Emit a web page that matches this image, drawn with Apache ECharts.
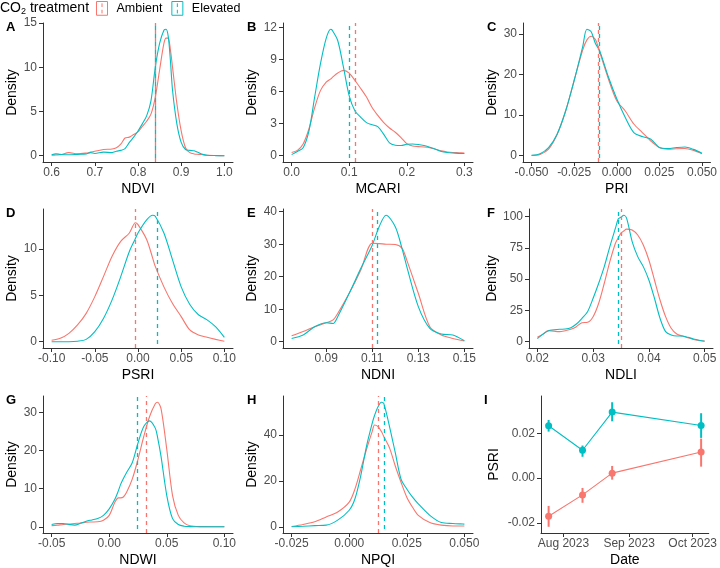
<!DOCTYPE html>
<html><head><meta charset="utf-8">
<script src="https://cdn.jsdelivr.net/npm/echarts@6/dist/echarts.min.js"></script>
<style>html,body{margin:0;padding:0;background:#fff}#c{width:720px;height:568px}</style>
</head><body><div id="c"></div>
<script>
// ---------- DATA ----------
const seriesNames = ['Ambient', 'Elevated'];

const ndviX    = [0.60,0.61,0.62,0.64,0.66,0.68,0.69,0.70,0.72,0.74,0.75,0.76,0.77,0.78,0.79,0.80,0.81,0.82,0.83,0.84,0.85,0.86,0.865,0.87,0.875,0.88,0.89,0.90,0.91,0.92,0.93,0.94,0.95,0.96,0.98,1.00];
const ndviAmb  = [0.05,0.08,0.1,0.35,0.2,0.3,0.4,0.5,0.7,0.75,0.9,1.3,2.0,2.1,2.4,2.7,3.3,3.9,4.7,6.6,9.7,12.7,13.3,13.3,12.0,10.0,5.9,2.8,0.9,0.35,0.2,0.15,0.1,0.05,0.02,0.0];
const ndviElev = [0.1,0.2,0.15,0.1,0.15,0.2,0.35,0.25,0.4,0.35,0.5,0.6,0.8,1.5,2.1,2.8,3.6,4.5,6.2,10.0,12.7,14.2,14.3,13.5,10.8,7.4,3.6,1.5,0.7,0.6,0.55,0.35,0.15,0.05,0.01,0.0];
const ndviMeans = [0.839, 0.841];
const ndviXTicks = [0.6,0.7,0.8,0.9,1.0];
const ndviXLabels = ['0.6','0.7','0.8','0.9','1.0'];
const ndviYTicks = [0,5,10,15];

const mcariX    = [0,0.01,0.02,0.03,0.04,0.05,0.06,0.068,0.07,0.08,0.09,0.10,0.11,0.12,0.13,0.14,0.15,0.16,0.17,0.18,0.19,0.20,0.21,0.22,0.23,0.24,0.25,0.26,0.27,0.28,0.29,0.30];
const mcariAmb  = [0.3,0.5,1.1,2.5,4.5,6.1,6.9,7.2,7.3,7.75,8.0,7.75,7.05,6.3,5.5,4.5,3.75,3.1,2.6,2.2,1.7,1.13,0.9,0.85,0.82,0.75,0.6,0.45,0.35,0.3,0.28,0.25];
const mcariElev = [0.1,0.4,0.75,2.3,5.5,8.6,11.0,11.85,11.8,10.8,8.3,5.6,4.2,3.6,3.1,2.9,2.7,2.0,1.2,0.98,0.95,1.07,1.1,1.05,0.95,0.8,0.6,0.4,0.3,0.25,0.22,0.2];
const mcariMeans = [0.110, 0.100];
const mcariXTicks = [0.0,0.1,0.2,0.3];
const mcariXLabels = ['0.0','0.1','0.2','0.3'];
const mcariYTicks = [0,3,6,9,12];

const priX    = [-0.05,-0.045,-0.04,-0.035,-0.03,-0.025,-0.02,-0.0175,-0.015,-0.0125,-0.01,-0.005,0,0.005,0.01,0.015,0.02,0.025,0.03,0.035,0.04,0.045,0.05];
const priAmb  = [0.05,0.3,1.6,5.2,11,18.5,26,28.5,29.4,28.6,25.5,19.0,13.5,11,7.8,5.7,3.6,2.0,1.6,1.7,1.75,1.3,0.5];
const priElev = [0.1,0.5,2,5.3,11,18.5,26.8,31.1,30.5,27.6,25.8,19.5,14,9.4,5.7,4.7,4.05,2.0,1.75,2.0,2.15,1.55,0.6];
const priMeans = [-0.0107, -0.0103];
const priXTicks = [-0.05,-0.025,0,0.025,0.05];
const priXLabels = ['-0.050','-0.025','0.000','0.025','0.050'];
const priYTicks = [0,10,20,30];

const psriX    = [-0.10,-0.09,-0.08,-0.07,-0.06,-0.05,-0.04,-0.03,-0.02,-0.01,-0.003,0,0.01,0.017,0.02,0.03,0.04,0.05,0.06,0.07,0.08,0.09,0.10];
const psriAmb  = [0.15,0.36,0.9,1.8,3.05,4.85,7.0,9.2,10.8,11.7,12.8,12.6,11.0,9.0,8.1,5.9,4.1,2.7,1.26,0.72,0.47,0.25,0.05];
const psriElev = [0,0,0,0.05,0.25,1.08,2.5,4.5,7.0,9.7,11.1,11.7,13.1,13.6,13.5,11.7,8.8,5.9,4.0,2.9,2.35,1.6,0.47];
const psriMeans = [-0.0031, 0.0221];
const psriXTicks = [-0.10,-0.05,0,0.05,0.10];
const psriXLabels = ['-0.10','-0.05','0.00','0.05','0.10'];
const psriYTicks = [0,5,10];

const ndniX    = [0.075,0.08,0.085,0.09,0.093,0.095,0.10,0.105,0.11,0.113,0.116,0.12,0.123,0.125,0.13,0.135,0.14,0.145,0.15];
const ndniAmb  = [1.8,3.1,4.6,5.8,6.7,8.7,14.9,22,30.3,30.2,30.0,29.9,28.7,25.1,14.9,4.6,2.05,1.0,0.2];
const ndniElev = [1.0,2.05,4.6,5.85,5.6,7.7,14.9,22.5,29.7,35.4,38.9,35.4,28.5,23.1,10.8,4.1,2.36,2.05,0.3];
const ndniMeans = [0.1099, 0.1121];
const ndniXTicks = [0.09,0.11,0.13,0.15];
const ndniXLabels = ['0.09','0.11','0.13','0.15'];
const ndniYTicks = [0,10,20,30,40];

const ndliX    = [0.02,0.021,0.022,0.024,0.025,0.026,0.027,0.028,0.029,0.030,0.031,0.032,0.033,0.034,0.0345,0.035,0.0355,0.036,0.037,0.038,0.039,0.040,0.041,0.042,0.043,0.044,0.045,0.046,0.047,0.048,0.049,0.05];
const ndliAmb  = [3.5,6,8.8,8,8.8,9.9,12,15.2,15.5,20,30.7,46.7,64,78.7,83,86.7,88.5,90,89.3,85.3,77.3,65.3,49.3,33.3,20,10.7,6.1,4.5,3.2,1.8,1.0,0.5];
const ndliElev = [2.5,6,8.8,9.9,10.1,11.2,14.1,18.7,24,34.7,46.7,60,76,90.7,98,99.5,101,98.7,80,68,60,49.3,34.7,18.7,8,5.3,4.5,4.5,3.5,2.2,1.2,0.4];
const ndliMeans = [0.03497, 0.03455];
const ndliXTicks = [0.02,0.03,0.04,0.05];
const ndliXLabels = ['0.02','0.03','0.04','0.05'];
const ndliYTicks = [0,25,50,75,100];

const ndwiX    = [-0.05,-0.045,-0.04,-0.035,-0.03,-0.025,-0.02,-0.015,-0.01,-0.005,0,0.005,0.008,0.01,0.012,0.015,0.02,0.025,0.03,0.035,0.04,0.042,0.045,0.05,0.055,0.06,0.065,0.07,0.08,0.09,0.10];
const ndwiAmb  = [0.3,0.43,0.6,0.7,0.86,1.0,1.2,1.25,1.3,1.7,3,6.5,7.6,7.6,7.75,9,12.5,17.7,23.7,28.9,32.3,32.7,31,20.3,8.2,3,1,0.26,0.03,0,0];
const ndwiElev = [0.6,0.86,0.85,0.6,0.43,0.9,1.47,1.8,2.15,3,4.7,7.3,9.5,11.2,12.5,14.2,16.8,22,26.3,27.8,25.9,23.5,18.5,8.2,2.15,0.6,0.15,0.05,0,0,0];
const ndwiMeans = [0.032, 0.0244];
const ndwiXTicks = [-0.05,0,0.05,0.10];
const ndwiXLabels = ['-0.05','0.00','0.05','0.10'];
const ndwiYTicks = [0,10,20,30];

const npqiX    = [-0.025,-0.02,-0.015,-0.01,-0.005,0,0.0025,0.005,0.0075,0.01,0.011,0.0125,0.014,0.015,0.0175,0.02,0.0225,0.025,0.0275,0.03,0.035,0.04,0.045,0.05];
const npqiAmb  = [0.1,1,2.15,4.3,6.45,10.75,16.5,25,33.7,41.6,44.4,43.7,41.5,39.4,34.4,26.5,19.4,12.9,8.5,5,1.86,0.7,0.35,0.35];
const npqiElev = [0,0.2,0.5,0.7,2.9,7.2,12.2,22.2,35.1,45.2,48.5,52.3,54.3,53.8,43.7,32.3,20.8,16.5,12.9,10,5,1.86,1.43,1.15];
const npqiMeans = [0.0125, 0.0151];
const npqiXTicks = [-0.025,0,0.025,0.05];
const npqiXLabels = ['-0.025','0.000','0.025','0.050'];
const npqiYTicks = [0,20,40];

// Panel I: PSRI over time (mean with error bars)
const dates     = ['2023-07-25','2023-08-10','2023-08-24','2023-10-05'];
const ambMean   = [-0.0170,-0.0075,0.0022,0.0116];
const ambLow    = [-0.0217,-0.0110,-0.0007,0.0051];
const ambHigh   = [-0.0124,-0.0044,0.0054,0.0176];
const elevMean  = [0.0233,0.0124,0.0294,0.0234];
const elevLow   = [0.0207,0.0095,0.0253,0.0179];
const elevHigh  = [0.0259,0.0145,0.0338,0.0289];
const dateTicks = ['2023-08-01','2023-09-01','2023-10-01'];
const dateTickLabels = ['Aug 2023','Sep 2023','Oct 2023'];
const psriTimeYTicks = [-0.02,0,0.02];
const psriTimeYLabels = ['-0.02','0.00','0.02'];

// ---------- STYLE / LAYOUT ----------
const COLORS = ['#F8766D', '#00BFC4'];
const FONT = "'Liberation Sans', Arial, Helvetica, sans-serif";
const AX = '#333333', TXT = '#4D4D4D';

const panels = [
  {name:'NDVI',  x:ndviX,  a:ndviAmb,  e:ndviElev,  m:ndviMeans,  xt:ndviXTicks,  xl:ndviXLabels,  yt:ndviYTicks},
  {name:'MCARI', x:mcariX, a:mcariAmb, e:mcariElev, m:mcariMeans, xt:mcariXTicks, xl:mcariXLabels, yt:mcariYTicks},
  {name:'PRI',   x:priX,   a:priAmb,   e:priElev,   m:priMeans,   xt:priXTicks,   xl:priXLabels,   yt:priYTicks},
  {name:'PSRI',  x:psriX,  a:psriAmb,  e:psriElev,  m:psriMeans,  xt:psriXTicks,  xl:psriXLabels,  yt:psriYTicks},
  {name:'NDNI',  x:ndniX,  a:ndniAmb,  e:ndniElev,  m:ndniMeans,  xt:ndniXTicks,  xl:ndniXLabels,  yt:ndniYTicks},
  {name:'NDLI',  x:ndliX,  a:ndliAmb,  e:ndliElev,  m:ndliMeans,  xt:ndliXTicks,  xl:ndliXLabels,  yt:ndliYTicks},
  {name:'NDWI',  x:ndwiX,  a:ndwiAmb,  e:ndwiElev,  m:ndwiMeans,  xt:ndwiXTicks,  xl:ndwiXLabels,  yt:ndwiYTicks},
  {name:'NPQI',  x:npqiX,  a:npqiAmb,  e:npqiElev,  m:npqiMeans,  xt:npqiXTicks,  xl:npqiXLabels,  yt:npqiYTicks}
];
const panelTags = ['A','B','C','D','E','F','G','H','I'];
const boxes = [
  [43,23,190,139],[283,23,190,139],[523,23,190,139],
  [43,209,190,139],[283,209,190,139],[529,209,184,139],
  [43,396,190,138],[283,396,190,138],[541,396,173,138]
];
const tagPos = [[6,21],[247,21],[487,21],[6,207],[247,207],[487,207],[6,394],[247,394],[484,394]];

function toTs(s){ const p = s.split('-').map(Number); return Date.UTC(p[0], p[1]-1, p[2]); }
function fmt(ticks, labels){
  return function(v){
    for (let i=0;i<ticks.length;i++){ if (Math.abs(ticks[i]-v) <= Math.abs(ticks[i])*1e-9 + 1e-12) return labels[i]; }
    return '';
  };
}
function expand(lo, hi){ const r = hi-lo; return [lo-0.05*r, hi+0.05*r]; }

const grids = [], xAxes = [], yAxes = [], series = [], titles = [];
boxes.forEach(b => grids.push({left:b[0], top:b[1], width:b[2], height:b[3], containLabel:false}));

function axisBase(){
  return {
    axisLine:{show:true, onZero:false, lineStyle:{color:AX, width:1}},
    splitLine:{show:false},
    nameLocation:'middle',
    nameTextStyle:{color:'#000', fontSize:14, fontFamily:FONT}
  };
}
const labelStyle = {color:TXT, fontSize:12, margin:6, fontFamily:FONT};

panels.forEach((p, i) => {
  const xr = expand(p.x[0], p.x[p.x.length-1]);
  const ymax = Math.max(Math.max.apply(null, p.a), Math.max.apply(null, p.e));
  xAxes.push(Object.assign(axisBase(), {
    type:'value', gridIndex:i, min:xr[0], max:xr[1], name:p.name, nameGap:20,
    axisTick:{show:true, customValues:p.xt, length:4, lineStyle:{color:AX}},
    axisLabel:Object.assign({customValues:p.xt, formatter:fmt(p.xt, p.xl)}, labelStyle, {margin:5})
  }));
  yAxes.push(Object.assign(axisBase(), {
    type:'value', gridIndex:i, min:-0.05*ymax, max:1.05*ymax, name:'Density', nameGap:24,
    axisTick:{show:true, customValues:p.yt, length:4, lineStyle:{color:AX}},
    axisLabel:Object.assign({customValues:p.yt, formatter:fmt(p.yt, p.yt.map(String))}, labelStyle)
  }));
  [p.a, p.e].forEach((ys, k) => {
    series.push({
      type:'line', name:seriesNames[k], xAxisIndex:i, yAxisIndex:i,
      data: p.x.map((xv, j) => [xv, ys[j]]),
      showSymbol:false, symbol:'none', smooth:0.3, clip:true,
      lineStyle:{color:COLORS[k], width:1.1}, itemStyle:{color:COLORS[k]},
      emphasis:{disabled:true}, silent:true,
      markLine:{symbol:['none','none'], silent:true, precision:8, label:{show:false},
        lineStyle:{color:COLORS[k], type:[4,4], dashOffset:k*4, width:1.3, opacity:1},
        emphasis:{disabled:true},
        data:[{xAxis:p.m[k], lineStyle:{color:COLORS[k]}}]}
    });
  });
});

// Panel I (dates as numeric timestamps on a value axis)
const iIdx = 8;
const dTs = dates.map(toTs);
const xrI = expand(dTs[0], dTs[dTs.length-1]);
const yrI = expand(Math.min.apply(null, ambLow.concat(elevLow)), Math.max.apply(null, ambHigh.concat(elevHigh)));
const dTickTs = dateTicks.map(toTs);
xAxes.push(Object.assign(axisBase(), {
  type:'value', gridIndex:iIdx, min:xrI[0], max:xrI[1], name:'Date', nameGap:20,
  axisTick:{show:true, customValues:dTickTs, length:4, lineStyle:{color:AX}},
  axisLabel:Object.assign({customValues:dTickTs, formatter:fmt(dTickTs, dateTickLabels), hideOverlap:false}, labelStyle, {margin:5})
}));
yAxes.push(Object.assign(axisBase(), {
  type:'value', gridIndex:iIdx, min:yrI[0], max:yrI[1], name:'PSRI', nameGap:40,
  axisTick:{show:true, customValues:psriTimeYTicks, length:4, lineStyle:{color:AX}},
  axisLabel:Object.assign({customValues:psriTimeYTicks, formatter:fmt(psriTimeYTicks, psriTimeYLabels)}, labelStyle)
}));
[[ambMean, ambLow, ambHigh], [elevMean, elevLow, elevHigh]].forEach((g, k) => {
  series.push({
    type:'custom', name:seriesNames[k], xAxisIndex:iIdx, yAxisIndex:iIdx, silent:true,
    data: dTs.map((t, j) => [t, g[1][j], g[2][j]]),
    encode:{x:0, y:[1,2]},
    renderItem:function(params, api){
      const x = api.value(0);
      const p1 = api.coord([x, api.value(1)]);
      const p2 = api.coord([x, api.value(2)]);
      return {type:'line', shape:{x1:p1[0], y1:p1[1], x2:p2[0], y2:p2[1]}, style:{stroke:COLORS[k], lineWidth:2}};
    }
  });
  series.push({
    type:'line', name:seriesNames[k], xAxisIndex:iIdx, yAxisIndex:iIdx, silent:true,
    data: dTs.map((t, j) => [t, g[0][j]]),
    symbol:'circle', symbolSize:7, showSymbol:true,
    lineStyle:{color:COLORS[k], width:1.1}, itemStyle:{color:COLORS[k]},
    emphasis:{disabled:true}
  });
});

// Titles: legend title + panel tags
titles.push({
  text:'CO{s|2} treatment', left:0, top:0, padding:0,
  textStyle:{fontSize:14, fontWeight:'normal', color:'#000', fontFamily:FONT,
    rich:{s:{fontSize:9, fontFamily:FONT, color:'#000', padding:[7,0,0,0]}}}
});
panelTags.forEach((t, i) => {
  titles.push({text:t, left:tagPos[i][0], top:tagPos[i][1], padding:0,
    textStyle:{fontSize:13, fontWeight:'bold', color:'#000', fontFamily:FONT}});
});

const iconPath = 'path://M0,0H12V15H0Z M6,2V6 M6,9V13';
const option = {
  animation:false,
  textStyle:{fontFamily:FONT},
  title:titles,
  legend:{
    left:96, top:1, itemWidth:11, itemHeight:14, itemGap:9, padding:0,
    selectedMode:false,
    textStyle:{fontSize:12.5, color:'#000', fontFamily:FONT, padding:[0,0,0,4]},
    data:seriesNames.map((n, k) => ({name:n, icon:iconPath,
      itemStyle:{color:'rgba(0,0,0,0)', borderColor:COLORS[k], borderWidth:1}}))
  },
  grid:grids, xAxis:xAxes, yAxis:yAxes, series:series
};
const chart = echarts.init(document.getElementById('c'), null, {renderer:'canvas'});
chart.setOption(option);
</script>
</body></html>
